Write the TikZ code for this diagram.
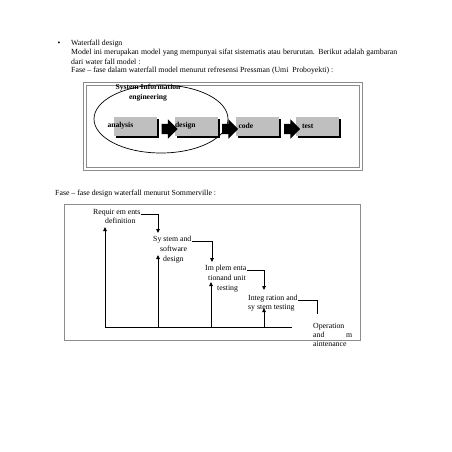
\documentclass[tikz,border=0pt]{standalone}
\usepackage{fontspec}
\setmainfont{Liberation Serif}
\usetikzlibrary{arrows.meta,shapes.geometric,shapes.arrows,shadows}

\begin{document}
\begin{tikzpicture}[x=1pt, y=-1pt,
                    txt/.style={font=\fontsize{7.8}{9}\selectfont, inner sep=0pt, anchor=base west},
                    lbl/.style={font=\fontsize{7.6}{10}\selectfont\bfseries, inner sep=0pt, anchor=west},
                    phase/.style={fill=black!25, minimum width=43pt, minimum height=19pt, inner sep=0pt,
                                  general shadow={fill=black, shadow xshift=2pt, shadow yshift=-2.5pt}},
                    flow/.style={single arrow, fill=black, inner xsep=0pt, inner ysep=5pt,
                                 minimum height=16pt, single arrow head extend=4.5pt,
                                 single arrow head indent=0pt},
                    stepline/.style={line width=0.8pt},
                    steparrow/.style={line width=0.8pt, -{Triangle[length=4pt,width=3.5pt]}}]
\fill[white] (0,0) rectangle (452,452);
\useasboundingbox (0,0) rectangle (452,452);

% text
\node[txt, anchor=base] (bul) at (59,45.5) {\textbullet};
\node[txt] (title) at (71,45.5) {Waterfall design};
\node[txt] (par1) at (71,55) {\makebox[326pt][s]{Model ini merupakan model yang mempunyai sifat sistematis atau berurutan. Berikut adalah gambaran}};
\node[txt] (par2) at (71,64) {dari water fall model :};
\node[txt] (par3) at (71,73) {Fase – fase dalam waterfall model menurut refresensi Pressman (Umi\ \ Proboyekti) :};

% Pressman
\draw[black!45] (83,82) rectangle (362,170);
\draw[black!45] (86,85) rectangle (359,167);

\node[phase] (analysis) at (135,126) {};
\node[phase] (design) at (196.5,126) {};
\node[phase] (code) at (257,126) {};
\node[phase] (test) at (317.5,126) {};

\node[flow] (ad) at (167,129) {};
\node[flow] (dc) at (227.5,129) {};
\node[flow] (ct) at (289.5,129) {};

\node[lbl] (analysistxt) at ([xshift=-6pt]analysis.west) {analysis};
\node[lbl] (designtxt) at (design.west) {design};
\node[lbl] (codetxt) at ([xshift=3pt]code.west) {code};
\node[lbl] (testtxt) at ([xshift=6pt]test.west) {test};

\node[draw, ellipse, line width=0.7pt, minimum width=134pt, minimum height=68pt] (sie) at (161,119) {};
\node[lbl, anchor=center, align=center] (sietxt) at (148,93) {System Information\\engineering};

% Sommerville
\node[txt] (cap2) at (55,195.5) {Fase – fase design waterfall menurut Sommerville :};
\draw[black!45, line width=1pt] (64,204) rectangle (360,340);

\node[txt] (req) at (93,214.5) {Requir em ents};
\node[txt] (def) at (105,223.5) {definition};
\node[txt] (sys) at (153,241.5) {Sy stem and};
\node[txt] (sw) at (160,251.5) {software};
\node[txt] (sd) at (163,261.5) {design};
\node[txt] (imp) at (205,270.5) {Im plem enta};
\node[txt] (tu) at (208,280.5) {tionand unit};
\node[txt] (tst) at (217,290.5) {testing};
\node[txt] (integ) at (248,300.5) {Integ ration and};
\node[txt] (st) at (248,309.5) {sy stem testing};
\node[txt] (oper) at (313,328.5) {Operation};
\node[txt] (opand) at (313,337.5) {\makebox[39pt][s]{and m}};
\node[txt] (maint) at (313,346.5) {aintenance};

\coordinate (d1) at (158,233);
\coordinate (d2) at (212,262);
\coordinate (d3) at (264,290);
\coordinate (d4) at (317,314);
\coordinate (u1) at (105,227);
\coordinate (u2) at (158,255);
\coordinate (u3) at (211,282);
\coordinate (u4) at (264,308);
\coordinate (g1) at (105,327);
\coordinate (g2) at (158,327);
\coordinate (g3) at (211,327);
\coordinate (g4) at (264,327);
\coordinate (gend) at (292,327);

\draw[steparrow] (req.base east) -| (d1);
\draw[steparrow] (sys.base east) -| (d2);
\draw[steparrow] (imp.base east) -| (d3);
\draw[stepline] (integ.base east) -| (d4);
\draw[stepline] (g1) -- (gend);
\foreach \g/\u in {g1/u1,g2/u2,g3/u3,g4/u4}
  \draw[steparrow] (\g) -- (\u);
\end{tikzpicture}
\end{document}
